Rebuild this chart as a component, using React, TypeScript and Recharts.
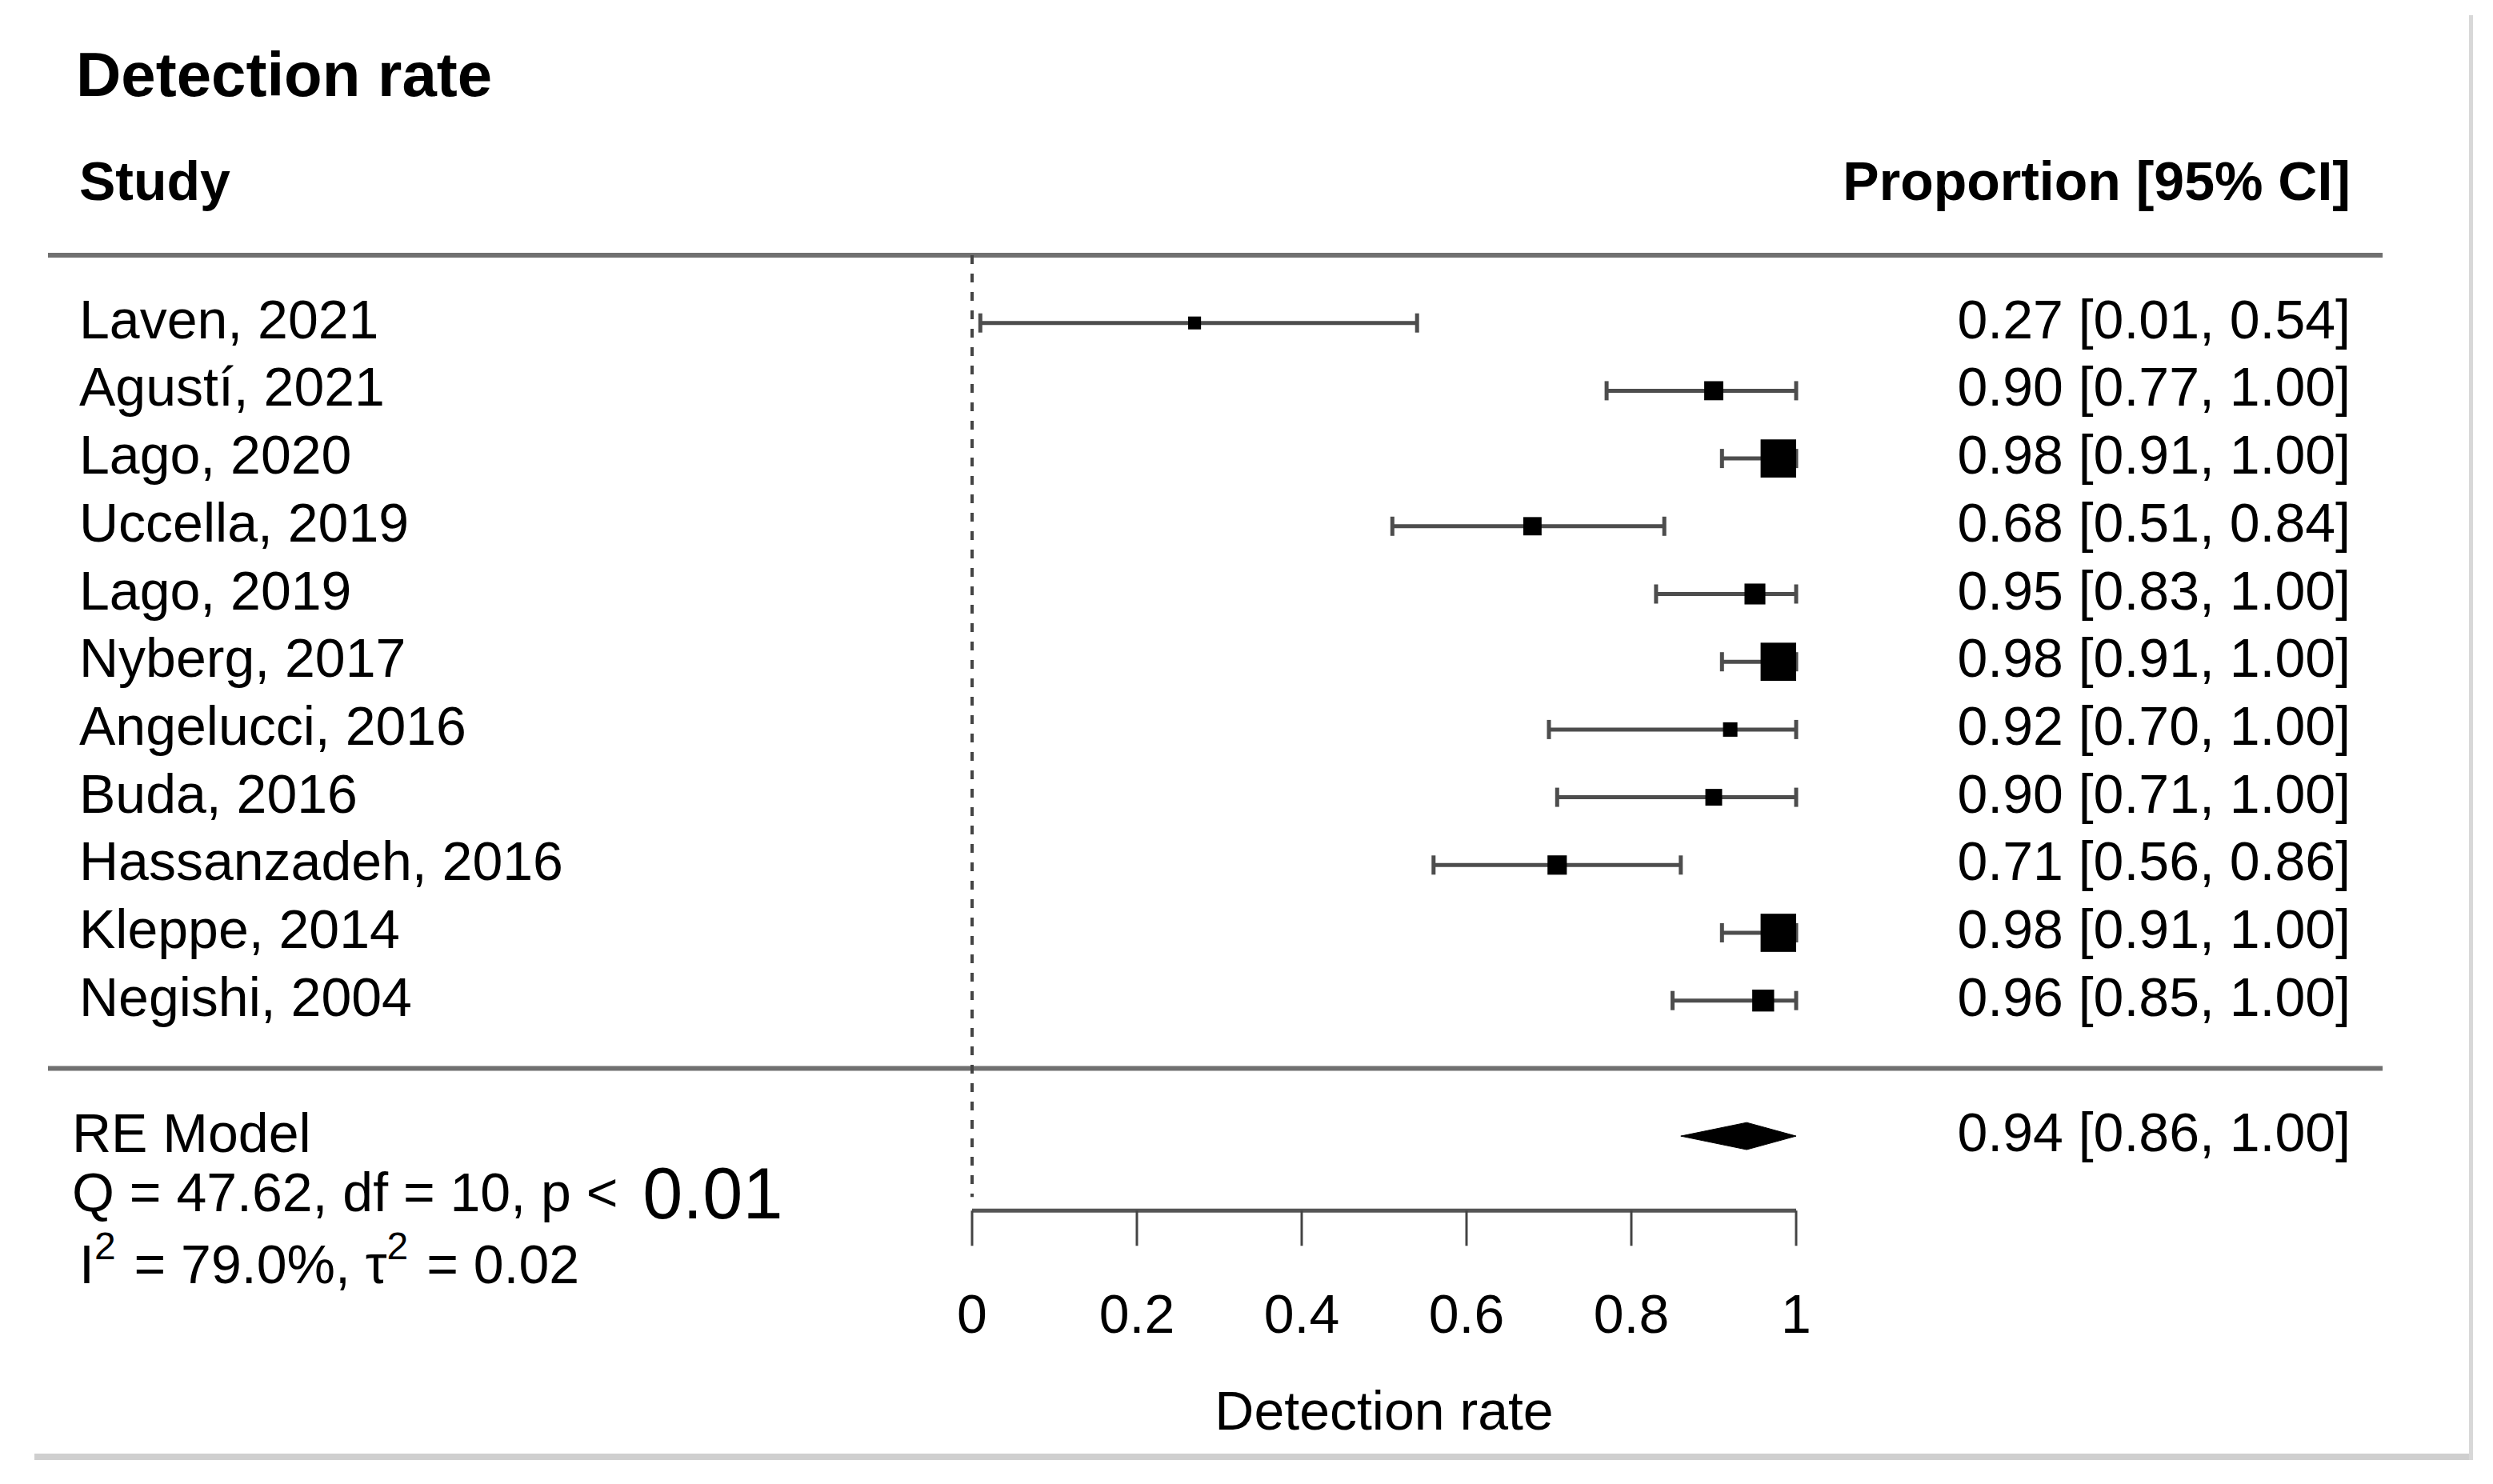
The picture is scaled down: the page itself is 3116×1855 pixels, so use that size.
import React from "react";
import {
  ScatterChart,
  Scatter,
  XAxis,
  YAxis,
  ErrorBar,
  ReferenceLine,
  ReferenceArea,
  Label,
} from "recharts";

// ---------- data ----------
const studies = [
  "Laven, 2021",
  "Agustí, 2021",
  "Lago, 2020",
  "Uccella, 2019",
  "Lago, 2019",
  "Nyberg, 2017",
  "Angelucci, 2016",
  "Buda, 2016",
  "Hassanzadeh, 2016",
  "Kleppe, 2014",
  "Negishi, 2004",
];
const estimates = [0.27, 0.9, 0.98, 0.68, 0.95, 0.98, 0.92, 0.9, 0.71, 0.98, 0.96];
const lower = [0.01, 0.77, 0.91, 0.51, 0.83, 0.91, 0.7, 0.71, 0.56, 0.91, 0.85];
const upper = [0.54, 1.0, 1.0, 0.84, 1.0, 1.0, 1.0, 1.0, 0.86, 1.0, 1.0];
const weights = [5.0, 7.4, 14.8, 7.1, 8.1, 14.8, 5.6, 6.5, 7.5, 14.8, 8.5];
const summaryLabel = "RE Model";
const summaryEst = 0.94;
const summaryLo = 0.86;
const summaryHi = 1.0;
const hetQ = "47.62";
const hetDf = "10";
const hetP = "0.01";
const hetI2 = "79.0%";
const hetTau2 = "0.02";
const xTicks = [0, 0.2, 0.4, 0.6, 0.8, 1];
const xLabel = "Detection rate";
const titleText = "Detection rate";
const studyHeader = "Study";
const ciHeader = "Proportion [95% CI]";

// ---------- layout ----------
if (typeof document !== "undefined") {
  document.body.style.margin = "0";
  document.documentElement.style.overflow = "hidden";
}
const W = 3110;
const H = 1850;
const FONT = '"Liberation Sans", Arial, Helvetica, sans-serif';
const FS = 68;
const TOP = 319;
const ROWH = 84.7;
const YMIN = -1;
const YMAX = 13.1;
const XAXIS_H = 300;
const PLOT_H = (YMAX - YMIN) * ROWH;
const BOTTOM = H - TOP - PLOT_H - XAXIS_H;
const LEFT_W = 1215;
const RIGHT_W = W - 2245;
const LABEL_X = 99;
const SUMMARY_X = 90;
const VALUE_X = 2938;
const RULE_X1 = 60;
const RULE_X2 = 2978;
const SQUARE_PER_WEIGHT = 3.22;

const SUMMARY_ROW = studies.length + 1;
const rowTicks = [...studies.map((_, i) => i), SUMMARY_ROW];

const studyData = studies.map((name, i) => ({
  name,
  row: i,
  est: estimates[i],
  errX: [estimates[i] - lower[i], upper[i] - estimates[i]],
  weight: weights[i],
}));

const fmt = (v: number) => v.toFixed(2);
const ciText = (e: number, l: number, u: number) => `${fmt(e)} [${fmt(l)}, ${fmt(u)}]`;

const textStyle = { fontFamily: FONT, fill: "#000", whiteSpace: "pre" as const };

const SquareShape = (props: any) => {
  const { cx, cy, payload } = props;
  if (cx == null || cy == null) return null;
  const s = payload.weight * SQUARE_PER_WEIGHT;
  return <rect x={cx - s / 2} y={cy - s / 2} width={s} height={s} fill="#000" />;
};

const DiamondShape = (props: any) => {
  const { x, y, width, height } = props;
  const peak = x + (width * (summaryEst - summaryLo)) / (summaryHi - summaryLo);
  const pts = [
    [x, y + height / 2],
    [peak, y],
    [x + width, y + height / 2],
    [peak, y + height],
  ]
    .map((p) => p.join(","))
    .join(" ");
  return <polygon points={pts} fill="#000" stroke="#000" strokeWidth={1} />;
};

const RuleShape = (props: any) => {
  const { y1 } = props;
  return <line x1={RULE_X1} x2={RULE_X2} y1={y1} y2={y1} stroke="#707070" strokeWidth={6} />;
};

const LeftTick = (props: any) => {
  const { y, payload } = props;
  const r = payload.value;
  if (r === SUMMARY_ROW) {
    return (
      <g>
        <text x={SUMMARY_X} y={y + 20} fontSize={FS} style={textStyle}>
          {summaryLabel}
        </text>
        <text x={SUMMARY_X} y={y + 94} fontSize={FS} style={textStyle}>
          {`Q = ${hetQ}, df = ${hetDf}, p < `}
          <tspan fontSize={90} dx={12} dy={9}>
            {hetP}
          </tspan>
        </text>
        <text x={LABEL_X} y={y + 184} fontSize={FS} style={textStyle}>
          {"I"}
          <tspan fontSize={48} dy={-30}>
            2
          </tspan>
          <tspan dx={4} dy={30}>{` = ${hetI2}, τ`}</tspan>
          <tspan fontSize={48} dy={-30}>
            2
          </tspan>
          <tspan dx={4} dy={30}>{` = ${hetTau2}`}</tspan>
        </text>
      </g>
    );
  }
  const name = studies[r];
  if (name == null) return null;
  return (
    <text x={LABEL_X} y={y + 19} fontSize={FS} style={textStyle}>
      {name}
    </text>
  );
};

const RightTick = (props: any) => {
  const { y, payload } = props;
  const r = payload.value;
  let t = "";
  if (r === SUMMARY_ROW) t = ciText(summaryEst, summaryLo, summaryHi);
  else if (studies[r] != null) t = ciText(estimates[r], lower[r], upper[r]);
  else return null;
  return (
    <text x={VALUE_X} y={y + 19} fontSize={FS} textAnchor="end" style={textStyle}>
      {t}
    </text>
  );
};

export default function App() {
  return (
    <div style={{ position: "relative", width: W, height: H, background: "#fff" }}>
      <ScatterChart
        width={W}
        height={H}
        margin={{ top: TOP, right: 0, bottom: BOTTOM, left: 0 }}
      >
        <XAxis
          type="number"
          dataKey="est"
          domain={[0, 1]}
          ticks={xTicks}
          interval={0}
          allowDataOverflow
          height={XAXIS_H}
          tickSize={44}
          tickMargin={60}
          axisLine={{ stroke: "#555", strokeWidth: 5 }}
          tickLine={{ stroke: "#444", strokeWidth: 3 }}
          tick={{ fontSize: FS, fill: "#000", fontFamily: FONT }}
          tickFormatter={(v: number) => String(v)}
        >
          <Label
            value={xLabel}
            position="insideTop"
            offset={225}
            fontSize={FS}
            fill="#000"
            fontFamily={FONT}
          />
        </XAxis>
        <YAxis
          yAxisId="left"
          type="number"
          dataKey="row"
          orientation="left"
          domain={[YMIN, YMAX]}
          reversed
          allowDataOverflow
          ticks={rowTicks}
          interval={0}
          width={LEFT_W}
          axisLine={false}
          tickLine={false}
          tick={<LeftTick />}
        />
        <YAxis
          yAxisId="right"
          type="number"
          dataKey="row"
          orientation="right"
          domain={[YMIN, YMAX]}
          reversed
          allowDataOverflow
          ticks={rowTicks}
          interval={0}
          width={RIGHT_W}
          axisLine={false}
          tickLine={false}
          tick={<RightTick />}
        />
        <ReferenceLine yAxisId="left" y={YMIN} ifOverflow="visible" shape={RuleShape} />
        <ReferenceLine yAxisId="left" y={studies.length} ifOverflow="visible" shape={RuleShape} />
        <ReferenceLine
          yAxisId="left"
          segment={[
            { x: 0, y: YMIN },
            { x: 0, y: 12.9 },
          ]}
          ifOverflow="visible"
          stroke="#444"
          strokeWidth={4}
          strokeDasharray="11 12"
        />
        <ReferenceArea
          yAxisId="left"
          x1={summaryLo}
          x2={summaryHi}
          y1={SUMMARY_ROW - 0.2}
          y2={SUMMARY_ROW + 0.2}
          ifOverflow="visible"
          shape={DiamondShape}
        />
        <Scatter
          yAxisId="left"
          data={studyData}
          dataKey="row"
          isAnimationActive={false}
          shape={SquareShape}
        >
          <ErrorBar
            dataKey="errX"
            direction="x"
            width={12}
            strokeWidth={5}
            stroke="#4d4d4d"
            isAnimationActive={false}
          />
        </Scatter>
        <Scatter
          yAxisId="right"
          data={studyData}
          dataKey="row"
          isAnimationActive={false}
          shape={() => null}
        />
      </ScatterChart>
      <svg
        width={W}
        height={H}
        style={{ position: "absolute", left: 0, top: 0, pointerEvents: "none" }}
      >
        <text x={95} y={120} fontSize={78} fontWeight="bold" style={textStyle}>
          {titleText}
        </text>
        <text x={LABEL_X} y={250} fontSize={FS} fontWeight="bold" style={textStyle}>
          {studyHeader}
        </text>
        <text x={VALUE_X} y={250} fontSize={FS} fontWeight="bold" textAnchor="end" style={textStyle}>
          {ciHeader}
        </text>
        <rect x={43} y={1817} width={3048} height={8} fill="#cfcfcf" />
        <rect x={3086} y={19} width={5} height={1806} fill="#d8d8d8" />
      </svg>
    </div>
  );
}
